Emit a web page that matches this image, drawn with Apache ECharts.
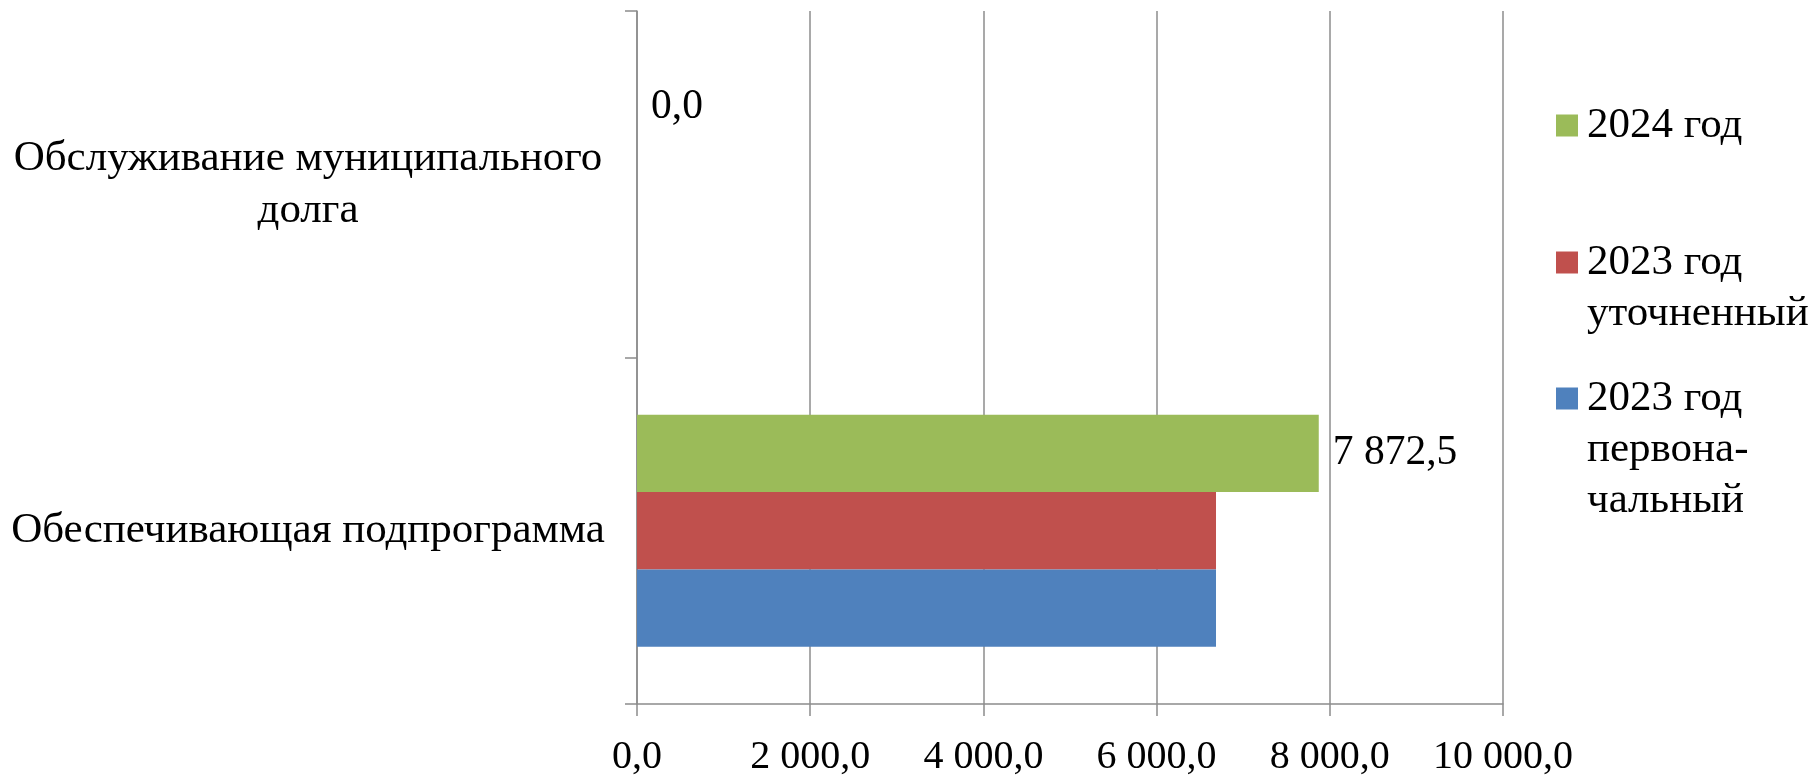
<!DOCTYPE html>
<html>
<head>
<meta charset="utf-8">
<script src="https://cdn.jsdelivr.net/npm/echarts@6/dist/echarts.min.js"></script>
<style>
  html, body { margin: 0; padding: 0; background: #fff; }
  #chart { width: 1815px; height: 777px; }
</style>
</head>
<body>
<div id="chart"></div>
<script>
// ---- data ----
const categories = ['Обеспечивающая подпрограмма', 'Обслуживание муниципального\nдолга'];
const seriesNames = ['2024 год', '2023 год уточненный', '2023 год первоначальный'];
const values2024 = [7872.5, 0.0];
const valuesRevised2023 = [6686.0, 0.0];
const valuesInitial2023 = [6686.0, 0.0];
const legendLines = {
  '2024 год': ['2024 год'],
  '2023 год уточненный': ['2023 год', 'уточненный'],
  '2023 год первоначальный': ['2023 год', 'первона-', 'чальный']
};
const colors = { '2023 год первоначальный': '#4F81BD', '2023 год уточненный': '#C0504D', '2024 год': '#9BBB59' };

const FONT = "'Liberation Serif', 'Times New Roman', serif";
const GRID_COLOR = '#8c8c8c';

function fmt(v) {
  const parts = Number(v).toFixed(1).split('.');
  return parts[0].replace(/\B(?=(\d{3})+(?!\d))/g, ' ') + ',' + parts[1];
}

function makeLegend(name, top) {
  const key = name === '2024 год' ? 'g' : (name === '2023 год уточненный' ? 'r' : 'b');
  return {
    data: [name],
    orient: 'vertical',
    left: 1551,
    top: top,
    padding: 0,
    icon: 'none',
    itemWidth: 0,
    itemHeight: 0,
    selectedMode: false,
    formatter: function (n) {
      return legendLines[n].map(function (l, i) {
        return (i === 0 ? '{sq' + key + '|}{gap|}' : '{ind|}') + '{t|' + l + '}';
      }).join('\n');
    },
    textStyle: {
      rich: {
        sqg: { width: 22, height: 22, backgroundColor: colors['2024 год'] },
        sqr: { width: 22, height: 22, backgroundColor: colors['2023 год уточненный'] },
        sqb: { width: 22, height: 22, backgroundColor: colors['2023 год первоначальный'] },
        gap: { width: 9 },
        ind: { width: 31 },
        t: { fontFamily: FONT, fontSize: 43, lineHeight: 51, color: '#000' }
      }
    }
  };
}

const chart = echarts.init(document.getElementById('chart'), null, { renderer: 'canvas' });
chart.setOption({
  animation: false,
  backgroundColor: '#fff',
  grid: { left: 637, right: 312, top: 11, bottom: 71, containLabel: false },
  legend: [
    makeLegend('2024 год', 104),
    makeLegend('2023 год уточненный', 241),
    makeLegend('2023 год первоначальный', 377)
  ],
  xAxis: {
    type: 'value',
    min: 0,
    max: 10000,
    interval: 2000,
    axisLine: { show: true, lineStyle: { color: GRID_COLOR, width: 1.5 } },
    axisTick: { show: true, length: 12, lineStyle: { color: GRID_COLOR, width: 1.5 } },
    splitLine: { show: true, lineStyle: { color: GRID_COLOR, width: 1.5 } },
    axisLabel: {
      formatter: fmt,
      fontFamily: FONT,
      fontSize: 40,
      color: '#000',
      margin: 33
    }
  },
  yAxis: {
    type: 'category',
    data: categories,
    axisLine: { show: true, lineStyle: { color: GRID_COLOR, width: 1.5 } },
    axisTick: { show: true, length: 12, lineStyle: { color: GRID_COLOR, width: 1.5 } },
    splitLine: { show: false },
    axisLabel: {
      align: 'center',
      margin: 329,
      fontFamily: FONT,
      fontSize: 43,
      lineHeight: 52,
      padding: [10, 0, 0, 0],
      color: '#000'
    }
  },
  series: [
    {
      name: seriesNames[0], type: 'bar', data: values2024,
      barGap: '0%', barCategoryGap: '33%',
      itemStyle: { color: colors[seriesNames[0]] },
      label: {
        show: true, position: 'right', distance: 14,
        formatter: function (p) { return fmt(p.value); },
        fontFamily: FONT, fontSize: 41.5, color: '#000'
      }
    },
    {
      name: seriesNames[1], type: 'bar', data: valuesRevised2023,
      barGap: '0%', barCategoryGap: '33%',
      itemStyle: { color: colors[seriesNames[1]] }
    },
    {
      name: seriesNames[2], type: 'bar', data: valuesInitial2023,
      barGap: '0%', barCategoryGap: '33%',
      itemStyle: { color: colors[seriesNames[2]] }
    }
  ]
});
</script>
</body>
</html>
